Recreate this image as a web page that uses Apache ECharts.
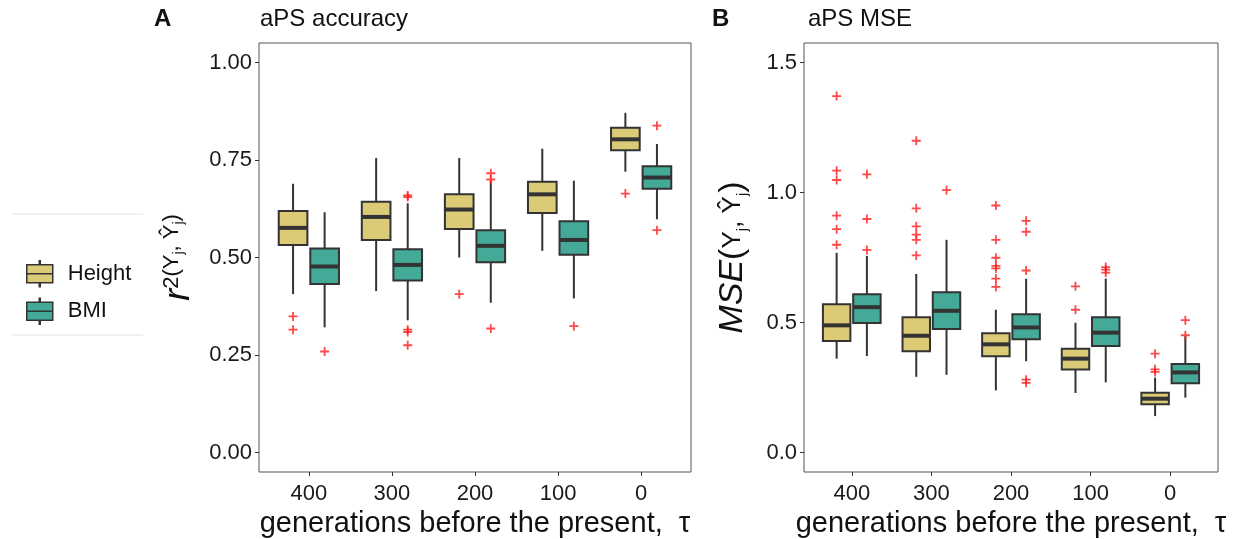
<!DOCTYPE html>
<html lang="en">

<head>
    <meta charset="UTF-8">
    <title>aPS accuracy and MSE</title>
    <script src="https://cdn.jsdelivr.net/npm/echarts@6/dist/echarts.min.js"></script>
    <style>
        body { margin: 0; background: #fff; }
    </style>
</head>

<body>
    <div id="main" style="width: 1253px;height:539px;"></div>
    <script type="text/javascript">
        // categories on the x axis
        const generations = ['400', '300', '200', '100', '0']

        // box stats per category: [lower whisker, Q1, median, Q3, upper whisker]
        const accHeight = [
            [0.406, 0.532, 0.576, 0.619, 0.689],
            [0.414, 0.545, 0.604, 0.643, 0.755],
            [0.500, 0.573, 0.623, 0.662, 0.755],
            [0.517, 0.614, 0.662, 0.694, 0.779],
            [0.720, 0.775, 0.803, 0.833, 0.871]
        ]
        const accBMI = [
            [0.321, 0.432, 0.477, 0.523, 0.616],
            [0.339, 0.441, 0.481, 0.521, 0.639],
            [0.384, 0.488, 0.530, 0.570, 0.697],
            [0.395, 0.507, 0.545, 0.593, 0.697],
            [0.598, 0.676, 0.705, 0.734, 0.791]
        ]
        // outliers: [category index, value]
        const accHeightOut = [[0, 0.349], [0, 0.315], [2, 0.406], [4, 0.664]]
        const accBMIOut = [
            [0, 0.259], [1, 0.659], [1, 0.655], [1, 0.315], [1, 0.309], [1, 0.275],
            [2, 0.716], [2, 0.700], [2, 0.318], [3, 0.324], [4, 0.838], [4, 0.570]
        ]

        const mseHeight = [
            [0.361, 0.429, 0.489, 0.570, 0.768],
            [0.291, 0.389, 0.449, 0.520, 0.687],
            [0.239, 0.370, 0.416, 0.459, 0.549],
            [0.229, 0.319, 0.361, 0.399, 0.499],
            [0.140, 0.186, 0.207, 0.230, 0.288]
        ]
        const mseBMI = [
            [0.371, 0.498, 0.559, 0.609, 0.756],
            [0.299, 0.475, 0.545, 0.616, 0.818],
            [0.351, 0.436, 0.481, 0.532, 0.668],
            [0.270, 0.410, 0.461, 0.520, 0.669],
            [0.211, 0.266, 0.308, 0.340, 0.447]
        ]
        const mseHeightOut = [
            [0, 1.371], [0, 1.084], [0, 1.048], [0, 0.911], [0, 0.859], [0, 0.799],
            [1, 1.199], [1, 0.939], [1, 0.870], [1, 0.838], [1, 0.818], [1, 0.758],
            [2, 0.950], [2, 0.818], [2, 0.749], [2, 0.718], [2, 0.708], [2, 0.669], [2, 0.637],
            [3, 0.639], [3, 0.549],
            [4, 0.380], [4, 0.320], [4, 0.310]
        ]
        const mseBMIOut = [
            [0, 1.070], [0, 0.898], [0, 0.779],
            [1, 1.009],
            [2, 0.891], [2, 0.849], [2, 0.700], [2, 0.280], [2, 0.268],
            [3, 0.713], [3, 0.703], [3, 0.692],
            [4, 0.509], [4, 0.451]
        ]

        const heightColor = '#DBCB77'
        const bmiColor = '#45A998'
        const DODGE = 0.19   // half distance between the two boxes, in category units
        const BOX_W = 0.345  // box width, in category units
        const font = 'Liberation Sans, Arial, sans-serif'
        const plus = 'path://M4,0h2v4h4v2h-4v4h-2v-4h-4v-2h4z'

        // box drawn through the axes: whisker, box, thick median
        function renderBox(params, api) {
            const x = api.value(0)
            const lo = api.coord([x, api.value(1)])
            const q1 = api.coord([x, api.value(2)])
            const md = api.coord([x, api.value(3)])
            const q3 = api.coord([x, api.value(4)])
            const hi = api.coord([x, api.value(5)])
            const w = api.size([BOX_W, 0])[0]
            return {
                type: 'group',
                children: [
                    { type: 'line', shape: { x1: lo[0], y1: lo[1], x2: hi[0], y2: hi[1] }, style: { stroke: '#333', lineWidth: 2 } },
                    { type: 'rect', shape: { x: q3[0] - w / 2, y: q3[1], width: w, height: q1[1] - q3[1] }, style: { fill: api.visual('color'), stroke: '#333', lineWidth: 2 } },
                    { type: 'line', shape: { x1: md[0] - w / 2, y1: md[1], x2: md[0] + w / 2, y2: md[1] }, style: { stroke: '#333', lineWidth: 4 } }
                ]
            }
        }

        const boxData = (stats, shift) => stats.map((s, i) => [i + shift, ...s])
        const outData = (pts, shift) => pts.map(([i, v]) => [i + shift, v])

        function boxSeries(name, stats, shift, color, idx) {
            return {
                name: name, type: 'custom', renderItem: renderBox,
                xAxisIndex: idx, yAxisIndex: idx,
                itemStyle: { color: color },
                encode: { x: 0, y: [1, 2, 3, 4, 5] },
                data: boxData(stats, shift), z: 2
            }
        }
        function outSeries(pts, shift, idx) {
            return {
                name: 'outliers', type: 'scatter', symbol: plus, symbolSize: 9,
                xAxisIndex: idx, yAxisIndex: idx,
                itemStyle: { color: '#ff1a1a' },
                data: outData(pts, shift), z: 3
            }
        }

        function xAxisFor(idx) {
            return {
                type: 'value', gridIndex: idx, min: -0.6, max: 4.6,
                name: 'generations before the present,  τ',
                nameLocation: 'middle', nameGap: 37,
                nameTextStyle: { fontSize: 29, color: '#111', fontFamily: font },
                axisLine: { show: false, onZero: false },
                splitLine: { show: false },
                axisTick: { show: true, length: 4, customValues: [0, 1, 2, 3, 4], lineStyle: { color: '#333' } },
                axisLabel: {
                    customValues: [0, 1, 2, 3, 4], margin: 11,
                    fontSize: 22, color: '#1a1a1a', fontFamily: font,
                    formatter: v => generations[Math.round(v)]
                }
            }
        }
        function yAxisFor(idx, min, max, ticks, digits, name, rich, gap) {
            return {
                type: 'value', gridIndex: idx, min: min, max: max,
                name: name, nameLocation: 'middle', nameGap: gap, nameRotate: 90,
                nameTextStyle: { rich: rich, fontFamily: font },
                axisLine: { show: false, onZero: false },
                splitLine: { show: false },
                axisTick: { show: true, length: 4, customValues: ticks, lineStyle: { color: '#333' } },
                axisLabel: {
                    customValues: ticks, margin: 7,
                    fontSize: 22, color: '#1a1a1a', fontFamily: font,
                    formatter: v => v.toFixed(digits)
                }
            }
        }

        const richA = {
            r: { fontSize: 36, fontStyle: 'italic', fontFamily: font, color: '#111' },
            s: { fontSize: 22, fontFamily: font, color: '#111', verticalAlign: 'top' },
            j: { fontSize: 14, fontFamily: font, color: '#111', verticalAlign: 'middle' }
        }
        const richB = {
            m: { fontSize: 34, fontStyle: 'italic', fontFamily: font, color: '#111' },
            p: { fontSize: 34, fontFamily: font, color: '#111' },
            s: { fontSize: 26, fontFamily: font, color: '#111' },
            j: { fontSize: 15, fontFamily: font, color: '#111', verticalAlign: 'bottom' }
        }

        const titleStyle = { fontSize: 24, fontWeight: 'normal', color: '#111', fontFamily: font }
        const letterStyle = { fontSize: 24, fontWeight: 'bold', color: '#111', fontFamily: font }

        let options = {
            animation: false,
            backgroundColor: '#fff',
            title: [
                { text: 'A', left: 154, top: 7, padding: 0, textStyle: letterStyle },
                { text: 'aPS accuracy', left: 260, top: 7, padding: 0, textStyle: titleStyle },
                { text: 'B', left: 712, top: 7, padding: 0, textStyle: letterStyle },
                { text: 'aPS MSE', left: 808, top: 7, padding: 0, textStyle: titleStyle }
            ],
            legend: {
                data: ['Height', 'BMI'],
                orient: 'vertical', left: 26, top: 260, padding: 0,
                itemWidth: 46, itemHeight: 26, itemGap: 10,
                icon: 'path://M0,4h26v9h-26z M0,13h26v9h-26z M12.5,0h1v4h-1z M12.5,22h1v4h-1z',
                itemStyle: { borderColor: '#333', borderWidth: 1.5 },
                textStyle: { fontSize: 22, color: '#111', fontFamily: font },
                selectedMode: false
            },
            graphic: [
                { type: 'line', shape: { x1: 12, y1: 214, x2: 143, y2: 214 }, style: { stroke: '#e3e3e3', lineWidth: 1 } },
                { type: 'line', shape: { x1: 12, y1: 335, x2: 143, y2: 335 }, style: { stroke: '#e3e3e3', lineWidth: 1 } }
            ],
            grid: [
                { left: 259, top: 43, width: 432, height: 429, outerBoundsMode: 'none', show: true, borderColor: '#555', borderWidth: 1 },
                { left: 804, top: 43, width: 414, height: 429, outerBoundsMode: 'none', show: true, borderColor: '#555', borderWidth: 1 }
            ],
            xAxis: [xAxisFor(0), xAxisFor(1)],
            yAxis: [
                yAxisFor(0, -0.05, 1.05, [0, 0.25, 0.5, 0.75, 1], 2,
                    '{r|r}{s|2(Y}{j|j}{s|, Ŷ}{j|j}{s|)}', richA, 62),
                yAxisFor(1, -0.075, 1.575, [0, 0.5, 1, 1.5], 1,
                    '{m|MSE}{p|(}{s|Y}{j|j}{s|, Ŷ}{j|j}{p|)}', richB, 54)
            ],
            series: [
                boxSeries('Height', accHeight, -DODGE, heightColor, 0),
                boxSeries('BMI', accBMI, DODGE, bmiColor, 0),
                outSeries(accHeightOut, -DODGE, 0),
                outSeries(accBMIOut, DODGE, 0),
                boxSeries('Height', mseHeight, -DODGE, heightColor, 1),
                boxSeries('BMI', mseBMI, DODGE, bmiColor, 1),
                outSeries(mseHeightOut, -DODGE, 1),
                outSeries(mseBMIOut, DODGE, 1)
            ]
        }

        let myChart = echarts.init(document.getElementById('main'))
        myChart.setOption(options)
    </script>
</body>

</html>
